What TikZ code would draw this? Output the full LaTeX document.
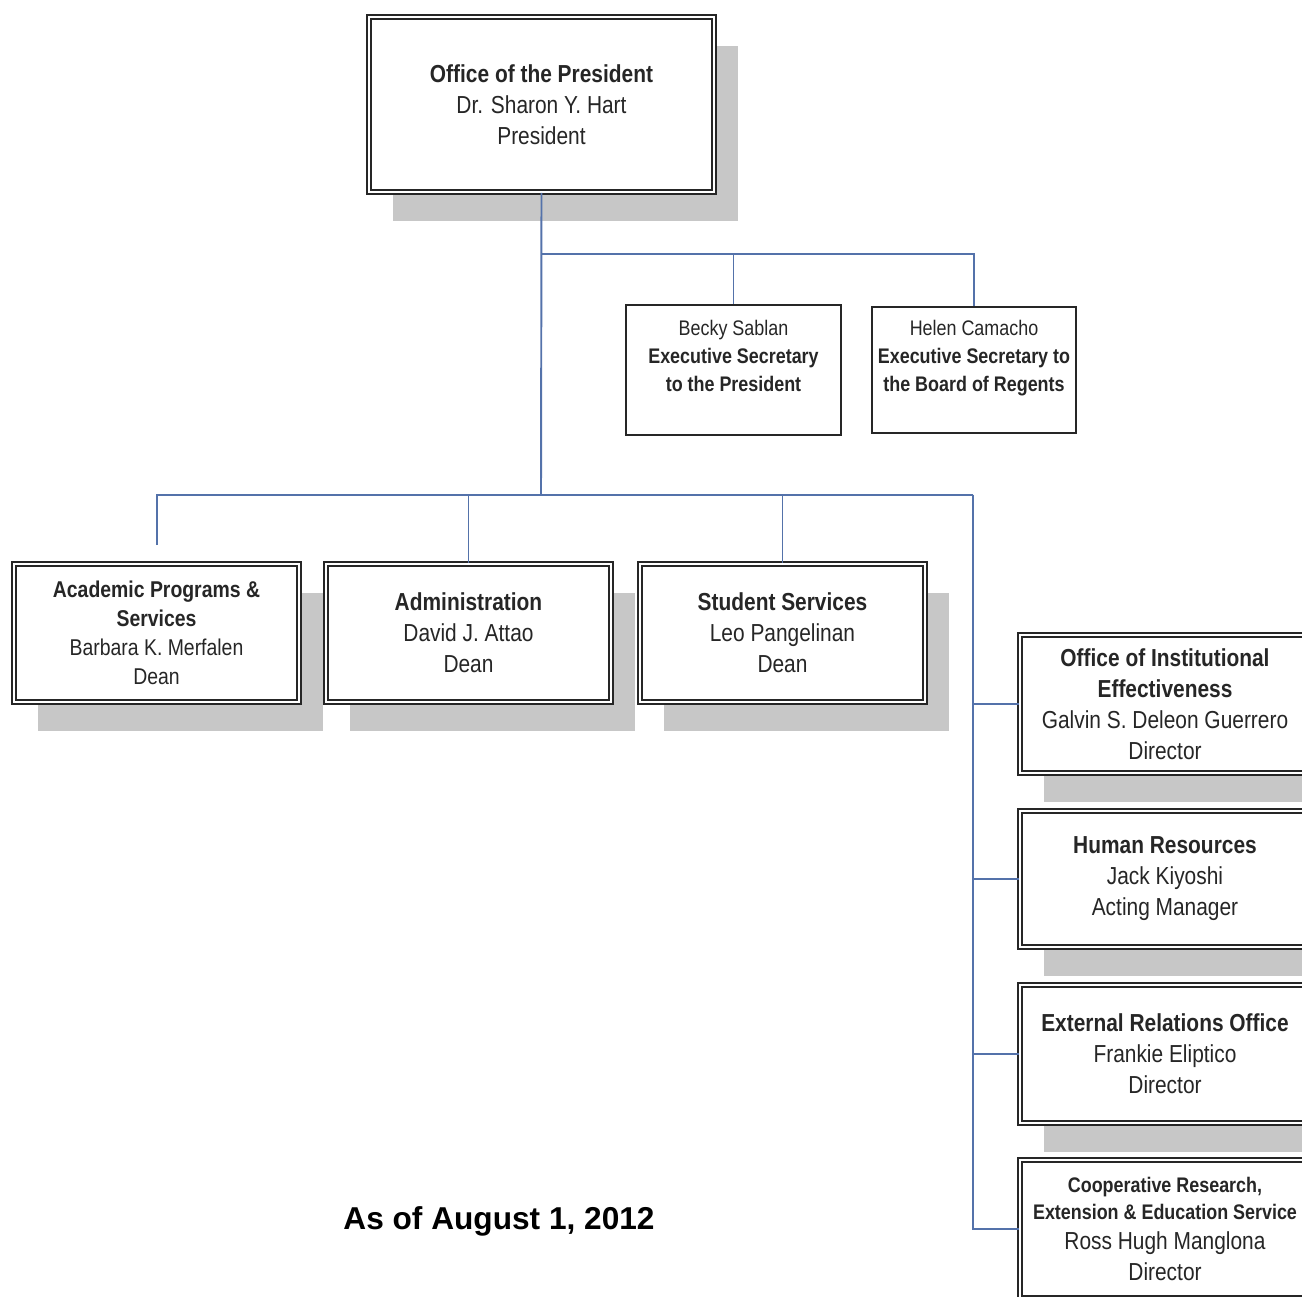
\documentclass[tikz,border=0pt]{standalone}
\usepackage{fontspec}
\setmainfont{Liberation Sans}[FakeStretch=0.85]
\newfontfamily\datefont{Liberation Sans}
\usetikzlibrary{positioning, shadows}

\definecolor{linkblue}{RGB}{84,114,170}

\begin{document}
\begin{tikzpicture}[
    x=0.02cm, y=-0.02cm,
    every node/.style={text=black!85},
    orgbox/.style={
        rectangle,
        draw=black!85,
        line width=1.1pt,
        double,
        double distance=1.4pt,
        fill=white,
        align=center,
        inner sep=2pt,
        minimum width=5.7cm,
        minimum height=2.76cm,
        drop shadow={shadow xshift=0.48cm, shadow yshift=-0.58cm,
            fill=black!22, opacity=1},
        font=\fontsize{14}{17.6}\selectfont
    },
    secbox/.style={
        rectangle,
        draw=black!85,
        line width=1.3pt,
        fill=white,
        align=center,
        font=\fontsize{12}{15.9}\selectfont
    },
    link/.style={draw=linkblue, line width=1.1pt}
]

\clip (0,0) rectangle (1302,1297);

\node[orgbox, minimum width=6.9cm, minimum height=3.5cm] (pres) at (541.5,104.5)
    {\textbf{Office of the President}\\Dr. Sharon Y. Hart\\President};

\node[secbox, minimum width=4.3cm, minimum height=2.6cm] (becky) at (733.5,370)
    {Becky Sablan\\\textbf{Executive Secretary}\\\textbf{to the President}\\~};
\node[secbox, minimum width=4.04cm, minimum height=2.52cm] (helen) at (974,370)
    {Helen Camacho\\\textbf{Executive Secretary to}\\\textbf{the Board of Regents}\\~};

\node[orgbox, font=\fontsize{13}{16.4}\selectfont] (acad) at (156.5,633)
    {\textbf{Academic Programs \&}\\\textbf{Services}\\Barbara K. Merfalen\\Dean};
\node[orgbox] (admin) at (468.5,633)
    {\textbf{Administration}\\David J. Attao\\Dean};
\node[orgbox] (stud) at (782.5,633)
    {\textbf{Student Services}\\Leo Pangelinan\\Dean};

\node[orgbox, minimum width=5.8cm] (oie) at (1165,704)
    {\textbf{Office of Institutional}\\\textbf{Effectiveness}\\Galvin S. Deleon Guerrero\\Director};
\node[orgbox, minimum width=5.8cm, minimum height=2.72cm] (hr) at (1165,879)
    {\textbf{Human Resources}\\Jack Kiyoshi\\Acting Manager};
\node[orgbox, minimum width=5.8cm] (ext) at (1165,1054)
    {\textbf{External Relations Office}\\Frankie Eliptico\\Director};
\node[orgbox, minimum width=5.8cm] (coop) at (1165,1229)
    {{\fontsize{12}{15}\selectfont\bfseries Cooperative Research,}\\[-2.3pt]
     {\fontsize{12}{15}\selectfont\bfseries Extension \& Education Service}\\[-0.6pt]
     Ross Hugh Manglona\\Director};

\node[font=\datefont\fontsize{18}{22}\selectfont\bfseries, text=black] (asof) at (499,1221)
    {As of August 1, 2012};

\coordinate (busA) at (541,254);
\coordinate (busB) at (541,495);
\coordinate (rail) at (973,495);
\coordinate (acadtop) at (157,545);

\draw[link] (pres.south) -- (busB);
\draw[link] (busA) -| (becky.north);
\draw[link] (busA) -| (helen.north);
\draw[link] (acadtop) |- (rail);
\draw[link] (busB -| admin.north) -- (admin.north);
\draw[link] (busB -| stud.north) -- (stud.north);
\draw[link] (rail) |- (oie.west);
\draw[link] (rail) |- (hr.west);
\draw[link] (rail) |- (ext.west);
\draw[link] (rail) |- (coop.west);

\end{tikzpicture}
\end{document}
